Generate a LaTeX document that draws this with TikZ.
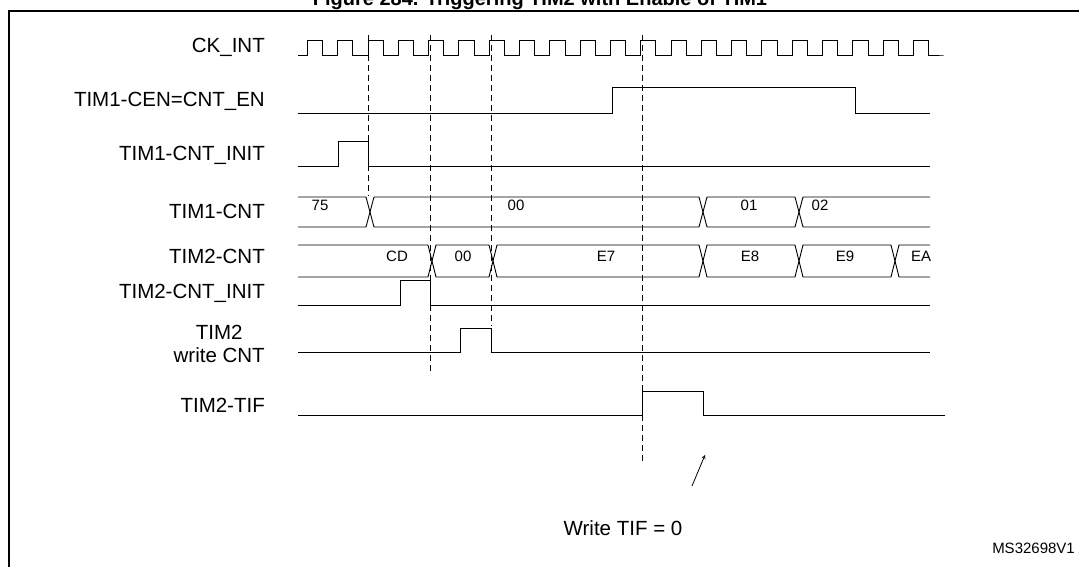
\documentclass[tikz,border=0pt]{standalone}
\usepackage{fontspec}
\setmainfont{Liberation Sans}
\begin{document}
\begin{tikzpicture}[x=1pt,y=-1pt,
  sig/.style={line width=0.9pt},
  dsh/.style={line width=0.7pt,dash pattern=on 6pt off 4pt},
  lab/.style={anchor=east,font=\fontsize{20.5}{22}\selectfont,inner sep=0},
  bl/.style={font=\fontsize{15}{17}\selectfont,inner sep=0}]
\useasboundingbox (0,0) rectangle (1079,567);
\node[font=\bfseries\fontsize{20}{22}\selectfont,anchor=base,inner sep=0] (title) at (540,6) {Figure 284. Triggering TIM2 with Enable of TIM1};
\draw[line width=1.2pt] (9,567) -- (9,11) -- (1079,11);
% dashed lines
\draw[dsh] (368,35) -- (368,196);
\draw[dsh] (430,35) -- (430,372);
\draw[dsh] (491,35) -- (491,326);
\draw[dsh] (642,35) -- (642,462);
% labels
\node[lab] (l1) at (265,47) {CK\_INT};
\node[lab] (l2) at (265,101) {TIM1-CEN=CNT\_EN};
\node[lab] (l3) at (265,155) {TIM1-CNT\_INIT};
\node[lab] (l4) at (265,211) {TIM1-CNT};
\node[lab] (l5) at (265,256) {TIM2-CNT};
\node[lab] (l6) at (265,293) {TIM2-CNT\_INIT};
\node[font=\fontsize{20.5}{23}\selectfont,align=center,inner sep=0,anchor=east] (l7) at (265,344) {TIM2\\write CNT};
\node[lab] (l8) at (265,405) {TIM2-TIF};
% clock
\draw[sig] (298,55) -- (307.4,55)
  \foreach \k in {0,...,20} { -- ({307.4+30.3*\k},55) -- ({307.4+30.3*\k},40) -- ({322.55+30.3*\k},40) -- ({322.55+30.3*\k},55) -- ({337.7+30.3*\k},55) }
  -- (935,55);
% CEN
\draw[sig] (298,113) -- (612,113) -- (612,87) -- (855,87) -- (855,113) -- (930,113);
% TIM1 CNT_INIT
\draw[sig] (298,166) -- (338,166) -- (338,141) -- (368,141) -- (368,166) -- (930,166);
% TIM1-CNT bus
\draw[sig] (298,197) -- (366,197) -- (374,227) -- (699,227) -- (707,197) -- (795,197) -- (803,227) -- (930,227);
\draw[sig] (298,227) -- (366,227) -- (374,197) -- (699,197) -- (707,227) -- (795,227) -- (803,197) -- (930,197);
\node[bl] (b75) at (320,205) {75};
\node[bl] (b00) at (516,205) {00};
\node[bl] (b01) at (749,205) {01};
\node[bl] (b02) at (820,205) {02};
% TIM2-CNT bus
\draw[sig] (298,245) -- (428,245) -- (436,277) -- (489,277) -- (497,245) -- (699,245) -- (707,277) -- (795,277) -- (803,245) -- (891,245) -- (899,277) -- (930,277);
\draw[sig] (298,277) -- (428,277) -- (436,245) -- (489,245) -- (497,277) -- (699,277) -- (707,245) -- (795,245) -- (803,277) -- (891,277) -- (899,245) -- (930,245);
\node[bl] (cd) at (397,256) {CD};
\node[bl] (z0) at (463,256) {00};
\node[bl] (e7) at (606,256) {E7};
\node[bl] (e8) at (750,256) {E8};
\node[bl] (e9) at (845,256) {E9};
\node[bl] (ea) at (921,256) {EA};
% TIM2 CNT_INIT
\draw[sig] (298,305) -- (400,305) -- (400,280) -- (430,280) -- (430,305) -- (930,305);
% write CNT
\draw[sig] (298,352) -- (460,352) -- (460,328) -- (491,328) -- (491,352) -- (930,352);
% TIF
\draw[sig] (298,415) -- (642,415) -- (642,391) -- (703,391) -- (703,415) -- (945,415);
\node[font=\fontsize{20.5}{22}\selectfont,inner sep=0] (wt) at (623,528) {Write TIF = 0};
\coordinate (tip) at (705,455);
\draw[line width=0.8pt,-stealth] (692,486) -- (tip);
\node[font=\fontsize{15}{17}\selectfont,inner sep=0,anchor=east] (ms) at (1075,548) {MS32698V1};
\end{tikzpicture}
\end{document}
